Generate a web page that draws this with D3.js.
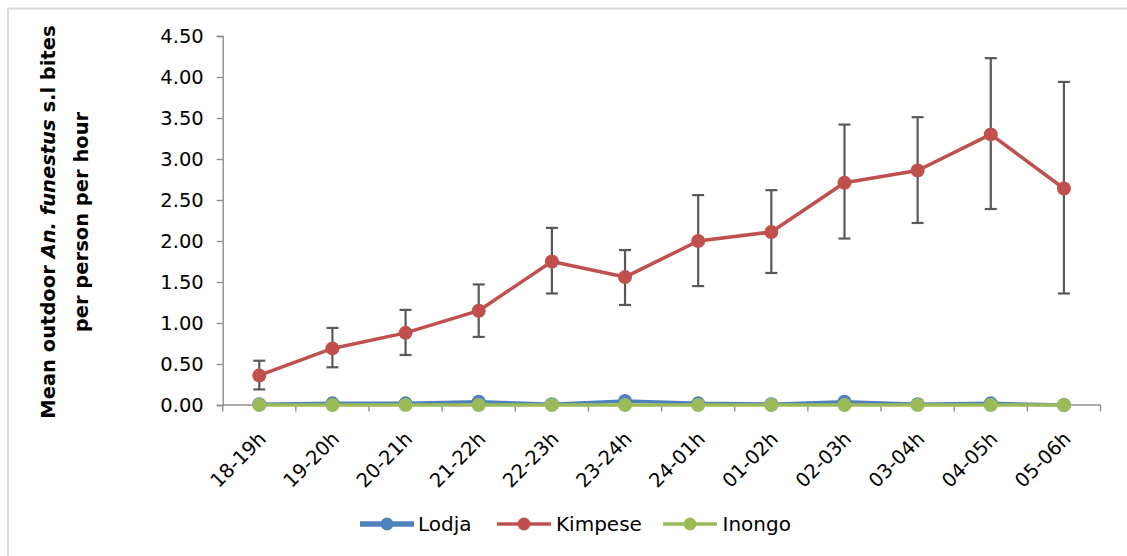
<!DOCTYPE html>
<html>
<head>
<meta charset="utf-8">
<script src="https://cdn.jsdelivr.net/npm/d3@7"></script>
<style>
  html, body { margin: 0; padding: 0; background: #ffffff; }
  svg { display: block; }
  text { font-family: "DejaVu Sans", sans-serif; fill: #000; }
</style>
</head>
<body>
<svg id="chart" width="1127" height="556"></svg>
<script>
// Hourly time slots (x axis)
const categories = ["18-19h", "19-20h", "20-21h", "21-22h", "22-23h", "23-24h",
                    "24-01h", "01-02h", "02-03h", "03-04h", "04-05h", "05-06h"];

// Mean outdoor bites per person per hour, by site
const lodja   = [0.01, 0.02, 0.02, 0.04, 0.01, 0.05, 0.02, 0.01, 0.04, 0.01, 0.02, 0.00];
const kimpese = [0.36, 0.69, 0.88, 1.15, 1.75, 1.56, 2.00, 2.11, 2.71, 2.86, 3.30, 2.64];
const inongo  = [0.00, 0.00, 0.00, 0.00, 0.00, 0.00, 0.00, 0.00, 0.00, 0.00, 0.00, 0.00];

// Error bar limits for Kimpese
const kimpeseLow  = [0.19, 0.46, 0.61, 0.83, 1.36, 1.22, 1.45, 1.61, 2.03, 2.22, 2.39, 1.36];
const kimpeseHigh = [0.54, 0.94, 1.16, 1.47, 2.16, 1.89, 2.56, 2.62, 3.42, 3.51, 4.23, 3.94];

// Y axis ticks
const yTicks = [0, 0.5, 1, 1.5, 2, 2.5, 3, 3.5, 4, 4.5];

const seriesNames  = ["Lodja", "Kimpese", "Inongo"];
const seriesColors = ["#4F81BD", "#C0504D", "#9BBB59"];

const series = [
  { name: seriesNames[0], color: seriesColors[0], values: lodja, width: 3.5 },
  { name: seriesNames[1], color: seriesColors[1], values: kimpese, width: 3.5 },
  { name: seriesNames[2], color: seriesColors[2], values: inongo, width: 3.5 }
];

const labelSize = 19.5;

const svg = d3.select("#chart");

// Chart frame (runs off the right and bottom edges)
svg.append("rect")
  .attr("x", 8).attr("y", 8.5)
  .attr("width", 1140).attr("height", 570)
  .attr("fill", "#fff")
  .attr("stroke", "#d9d9d9")
  .attr("stroke-width", 2);

const plot = { left: 222.7, right: 1100.5, top: 36, bottom: 405 };

const x = d3.scaleBand()
  .domain(categories)
  .range([plot.left, plot.right])
  .paddingInner(0).paddingOuter(0);

const y = d3.scaleLinear()
  .domain([0, 4.5])
  .range([plot.bottom, plot.top]);

const cx = c => x(c) + x.bandwidth() / 2;

const axisColor = "#8c8c8c";

// Y axis
const yAxis = svg.append("g")
  .attr("transform", `translate(${plot.left},0)`)
  .call(d3.axisLeft(y).tickValues(yTicks).tickFormat(d3.format(".2f")).tickSizeOuter(0).tickSize(6).tickPadding(13));
yAxis.select(".domain").attr("stroke", axisColor).attr("stroke-width", 1.4);
yAxis.selectAll(".tick line").attr("stroke", axisColor).attr("stroke-width", 1.4);
yAxis.selectAll(".tick text")
  .attr("font-family", "DejaVu Sans, sans-serif")
  .attr("font-size", labelSize)
  .attr("fill", "#000");

// X axis: ticks sit on the category boundaries
const xAxisG = svg.append("g").attr("transform", `translate(0,${plot.bottom})`);
xAxisG.append("line")
  .attr("x1", plot.left).attr("x2", plot.right)
  .attr("y1", 0).attr("y2", 0)
  .attr("stroke", axisColor).attr("stroke-width", 1.4);
const boundaries = categories.map(c => x(c)).concat([x(categories[categories.length - 1]) + x.bandwidth()]);
xAxisG.selectAll("line.tk")
  .data(boundaries)
  .join("line")
  .attr("class", "tk")
  .attr("x1", d => d).attr("x2", d => d)
  .attr("y1", 0).attr("y2", 6.5)
  .attr("stroke", axisColor).attr("stroke-width", 1.4);
xAxisG.selectAll("text")
  .data(categories)
  .join("text")
  .attr("transform", d => `translate(${cx(d) + 8},35) rotate(-45)`)
  .attr("text-anchor", "end")
  .attr("font-size", labelSize)
  .text(d => d);

// Y axis title
const title = svg.append("text")
  .attr("transform", "translate(0,222) rotate(-90)")
  .attr("text-anchor", "middle")
  .attr("font-family", "DejaVu Sans, sans-serif")
  .attr("font-weight", "bold")
  .attr("font-size", 19.5);
const line1 = title.append("tspan").attr("x", 0).attr("y", 55);
line1.append("tspan").text("Mean outdoor ");
line1.append("tspan").attr("font-style", "italic").text("An. funestus");
line1.append("tspan").text(" s.l bites");
title.append("tspan").attr("x", 0).attr("y", 88).text("per person per hour");

// Error bars (Kimpese)
const errG = svg.append("g").attr("stroke", "#595959").attr("stroke-width", 2.2);
categories.forEach((c, i) => {
  errG.append("line")
    .attr("x1", cx(c)).attr("x2", cx(c))
    .attr("y1", y(kimpeseLow[i])).attr("y2", y(kimpeseHigh[i]));
  [kimpeseLow[i], kimpeseHigh[i]].forEach(v => {
    errG.append("line")
      .attr("x1", cx(c) - 6).attr("x2", cx(c) + 6)
      .attr("y1", y(v)).attr("y2", y(v));
  });
});

// Lines and markers, drawn series by series
const lineGen = d3.line()
  .x((d, i) => cx(categories[i]))
  .y(d => y(d));

series.forEach(s => {
  svg.append("path")
    .datum(s.values)
    .attr("d", lineGen)
    .attr("fill", "none")
    .attr("stroke", s.color)
    .attr("stroke-width", s.width)
    .attr("stroke-linejoin", "round");
  svg.append("g")
    .selectAll("circle")
    .data(s.values)
    .join("circle")
    .attr("cx", (d, i) => cx(categories[i]))
    .attr("cy", d => y(d))
    .attr("r", 7)
    .attr("fill", s.color);
});

// Legend
const legendItems = [
  { lx: 360, tx: 418, lw: 5.5 },
  { lx: 497, tx: 556, lw: 3.5 },
  { lx: 663, tx: 722.5, lw: 3.5 }
];
const legendY = 524;
series.forEach((s, i) => {
  const it = legendItems[i];
  const g = svg.append("g");
  g.append("line")
    .attr("x1", it.lx).attr("x2", it.lx + 54)
    .attr("y1", legendY).attr("y2", legendY)
    .attr("stroke", s.color).attr("stroke-width", it.lw);
  g.append("circle")
    .attr("cx", it.lx + 27).attr("cy", legendY)
    .attr("r", 6.5).attr("fill", s.color);
  g.append("text")
    .attr("x", it.tx).attr("y", legendY)
    .attr("dy", "0.35em")
    .attr("font-size", 20)
    .text(s.name);
});
</script>
</body>
</html>
